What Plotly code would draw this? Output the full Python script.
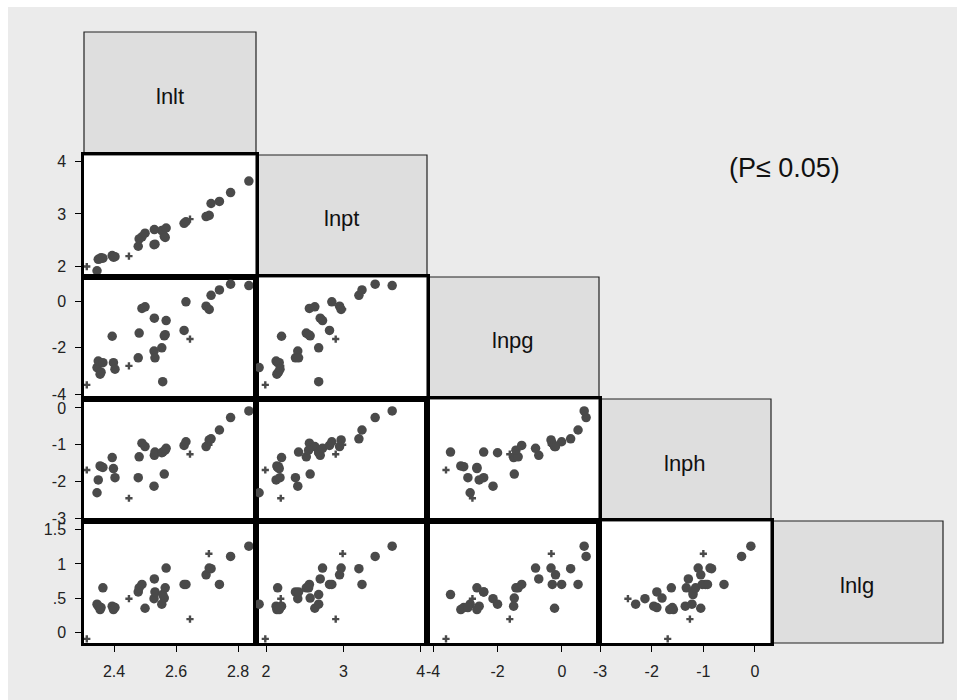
import plotly.graph_objects as go

# Variable names (shown on the diagonal)
names = ["lnlt", "lnpt", "lnpg", "lnph", "lnlg"]

# Observations
lnlt = [2.312, 2.345, 2.349, 2.355, 2.358, 2.364, 2.394, 2.398, 2.403, 2.448,
        2.478, 2.481, 2.490, 2.500, 2.562, 2.529, 2.530, 2.532, 2.554, 2.557,
        2.565, 2.568, 2.626, 2.632, 2.645, 2.697, 2.707, 2.713, 2.706, 2.740,
        2.776, 2.835]
lnpt = [1.99, 1.91, 2.13, 2.14, 2.16, 2.15, 2.20, 2.17, 2.18, 2.19,
        2.38, 2.52, 2.56, 2.63, 2.57, 2.41, 2.70, 2.42, 2.68, 2.68,
        2.55, 2.73, 2.82, 2.85, 2.90, 2.95, 2.97, 3.20, 2.99, 3.24,
        3.41, 3.63]
lnpg = [-3.60, -2.85, -2.57, -3.14, -3.05, -2.64, -1.50, -2.64, -2.92, -2.78,
        -2.43, -1.36, -0.30, -0.23, -1.48, -2.14, -0.72, -2.43, -2.00, -3.46,
        -1.43, -0.82, -1.25, -0.01, -1.62, -0.20, -0.34, 0.27, -0.33, 0.50,
        0.75, 0.69]
lnph = [-1.69, -2.31, -1.96, -1.58, -1.60, -1.62, -1.35, -1.65, -1.90, -2.46,
        -1.90, -1.33, -0.96, -1.05, -1.80, -2.13, -1.29, -1.20, -1.22, -1.20,
        -1.15, -1.10, -1.02, -0.92, -1.26, -1.05, -0.87, -0.84, -1.00, -0.60,
        -0.26, -0.08]
lnlg = [-0.10, 0.41, 0.38, 0.33, 0.36, 0.65, 0.38, 0.33, 0.36, 0.49,
        0.59, 0.65, 0.70, 0.35, 0.50, 0.49, 0.78, 0.59, 0.41, 0.55,
        0.65, 0.94, 0.70, 0.70, 0.19, 0.84, 0.94, 0.93, 1.15, 0.70,
        1.11, 1.26]
# 1 = small point, 0 = regular point
small_point = [1, 0, 0, 0, 0, 0, 0, 0, 0, 1,
               0, 0, 0, 0, 0, 0, 0, 0, 0, 0,
               0, 0, 0, 0, 1, 0, 0, 0, 1, 0,
               0, 0]

# Tick values and labels per variable
lnlt_ticks = [2.4, 2.6, 2.8]
lnlt_labels = ["2.4", "2.6", "2.8"]
lnpt_ticks = [2, 3, 4]
lnpt_labels = ["2", "3", "4"]
lnpg_ticks = [-4, -2, 0]
lnpg_labels = ["-4", "-2", "0"]
lnph_ticks = [-3, -2, -1, 0]
lnph_labels = ["-3", "-2", "-1", "0"]
lnlg_ticks = [0, 0.5, 1, 1.5]
lnlg_labels = ["0", ".5", "1", "1.5"]

annotation_text = "(P\u2264 0.05)"

values = {"lnlt": lnlt, "lnpt": lnpt, "lnpg": lnpg, "lnph": lnph, "lnlg": lnlg}
ticks = {"lnlt": (lnlt_ticks, lnlt_labels), "lnpt": (lnpt_ticks, lnpt_labels),
         "lnpg": (lnpg_ticks, lnpg_labels), "lnph": (lnph_ticks, lnph_labels),
         "lnlg": (lnlg_ticks, lnlg_labels)}

# Axis ranges when a variable is on the horizontal / vertical axis
x_range = {"lnlt": [2.303, 2.858], "lnpt": [1.87, 4.08], "lnpg": [-4.19, 1.15],
           "lnph": [-3.02, 0.31]}
y_range = {"lnpt": [1.79, 4.13], "lnpg": [-4.21, 1.06], "lnph": [-3.08, 0.245],
           "lnlg": [-0.16, 1.63]}

W, H = 957, 700
col_edges = [84, 256, 427, 599, 771, 943]
row_edges = [32, 155, 277, 399, 521, 643]


def fx(px):
    return px / W


def fy(py):
    return 1 - py / H


BG = "#ebebeb"
DIAG = "#dedede"
DOT = "#4a4a4a"
FONT = "Liberation Sans, Arial, sans-serif"

symbols = ["cross" if s else "circle" for s in small_point]
sizes = [6 if s else 9.5 for s in small_point]

fig = go.Figure()
layout_axes = {}
k = 0
for i in range(1, 5):
    for j in range(i):
        k += 1
        suffix = "" if k == 1 else str(k)
        vx, vy = names[j], names[i]
        fig.add_trace(go.Scatter(
            x=values[vx], y=values[vy], mode="markers",
            xaxis="x" + suffix, yaxis="y" + suffix,
            marker=dict(symbol=symbols, size=sizes, color=DOT, opacity=1,
                        line=dict(width=0)),
            showlegend=False, hoverinfo="skip",
        ))
        bottom = (i == 4)
        left = (j == 0)
        tx, tlx = ticks[vx]
        ty, tly = ticks[vy]
        layout_axes["xaxis" + suffix] = dict(
            domain=[fx(col_edges[j]), fx(col_edges[j + 1])],
            range=x_range[vx], anchor="y" + suffix, automargin=False,
            showgrid=False, zeroline=False, showline=True, mirror=True,
            linecolor="black", linewidth=2.5,
            tickmode="array", tickvals=tx, ticktext=tlx,
            ticks="outside" if bottom else "", ticklen=6, tickwidth=1,
            tickcolor="black", showticklabels=bottom, ticklabelstandoff=6,
            tickfont=dict(family=FONT, size=16, color="#222"),
        )
        layout_axes["yaxis" + suffix] = dict(
            domain=[fy(row_edges[i + 1]), fy(row_edges[i])],
            range=y_range[vy], anchor="x" + suffix, automargin=False,
            showgrid=False, zeroline=False, showline=True, mirror=True,
            linecolor="black", linewidth=2.5,
            tickmode="array", tickvals=ty, ticktext=tly,
            ticks="outside" if left else "", ticklen=6, tickwidth=1,
            tickcolor="black", showticklabels=left, ticklabelstandoff=6,
            tickfont=dict(family=FONT, size=16, color="#222"),
        )

shapes = [
    # white strips around the gray canvas
    dict(type="rect", xref="paper", yref="paper", x0=0, x1=1, y0=fy(7), y1=1,
         fillcolor="white", line=dict(width=0), layer="below"),
    dict(type="rect", xref="paper", yref="paper", x0=0, x1=fx(8), y0=0, y1=1,
         fillcolor="white", line=dict(width=0), layer="below"),
]
annotations = []
for d, name in enumerate(names):
    x0, x1 = col_edges[d], col_edges[d + 1]
    y0, y1 = row_edges[d], row_edges[d + 1]
    shapes.append(dict(type="rect", xref="paper", yref="paper",
                       x0=fx(x0), x1=fx(x1), y0=fy(y1), y1=fy(y0),
                       fillcolor=DIAG, line=dict(color="#222", width=1.2),
                       layer="below"))
    annotations.append(dict(xref="paper", yref="paper",
                            x=fx((x0 + x1) / 2), y=fy((y0 + y1) / 2 + 3),
                            xanchor="center", yanchor="middle",
                            text=name, showarrow=False,
                            font=dict(family=FONT, size=22, color="#111")))

annotations.append(dict(xref="paper", yref="paper", x=fx(784), y=fy(168),
                        xanchor="center", yanchor="middle",
                        text=annotation_text, showarrow=False,
                        font=dict(family=FONT, size=27, color="#111")))

fig.update_layout(
    width=W, height=H, margin=dict(l=0, r=0, t=0, b=0),
    paper_bgcolor=BG, plot_bgcolor="white",
    shapes=shapes, annotations=annotations,
    **layout_axes,
)

fig.write_html("out.html")
